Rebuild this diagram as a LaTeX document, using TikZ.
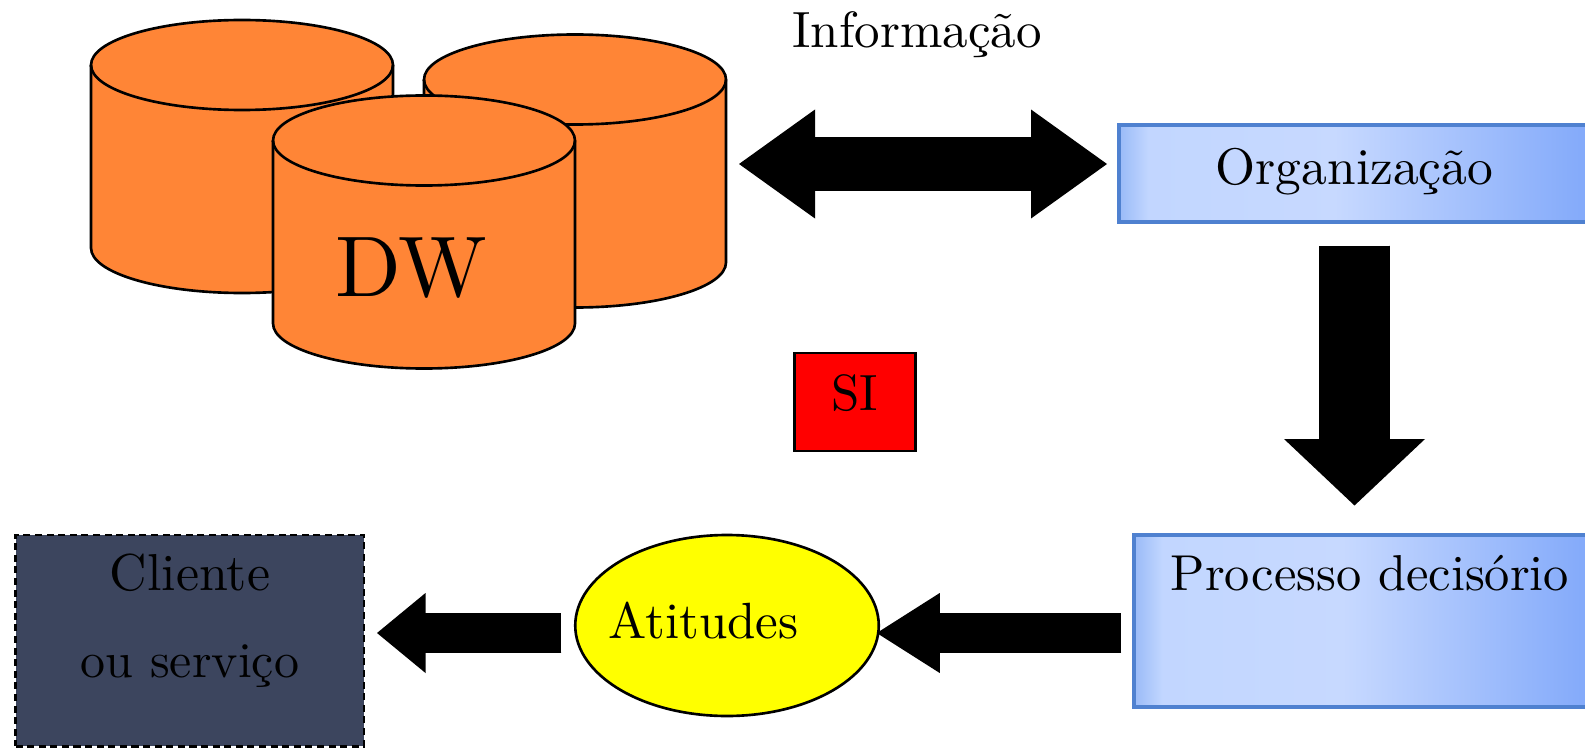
\documentclass[tikz,border=0pt]{standalone}
\usepackage{tikz}
\usetikzlibrary{arrows.meta, shapes.geometric}
\usetikzlibrary{positioning}
\definecolor{dworange}{RGB}{255,133,54}
\definecolor{boxline}{RGB}{79,129,208}
\definecolor{cliblue}{RGB}{60,69,94}
\definecolor{atiyellow}{RGB}{255,255,0}
\definecolor{sired}{RGB}{255,0,0}
\pgfdeclarehorizontalshading{boxshade}{100bp}{
  rgb(0bp)=(.60,.73,.97);
  rgb(25bp)=(.60,.73,.97);
  rgb(28bp)=(.76,.84,1);
  rgb(47bp)=(.78,.85,1);
  rgb(72bp)=(.52,.67,.98);
  rgb(100bp)=(.52,.67,.98)}
\tikzset{
  dw/.style={minimum height=5.46cm, minimum width=6.04cm, inner sep=0pt, outer sep=0pt},
  can/.style={draw, fill=dworange, line width=1.5pt},
  bluebox/.style={draw=boxline, line width=1.75pt, shading=boxshade, inner sep=0pt, outer sep=0pt},
  txt/.style={anchor=base, inner sep=0pt, scale=2.9, transform shape},
  bigarrow/.style n args={4}{line width=#1, -{Triangle[width=#2,length=#3,line width=0pt]},
    postaction={draw,-,shorten >=#4}},
  dblarrow/.style n args={4}{line width=#1, {Triangle[width=#2,length=#3,line width=0pt]}-{Triangle[width=#2,length=#3,line width=0pt]},
    postaction={draw,-,shorten <=#4,shorten >=#4}}
}
\newcommand{\dwcan}[1]{
\draw[can] ([yshift=-.9cm]#1.north west)--([yshift=.9cm]#1.south west) arc (180:360:3.02 and .9)--([yshift=-.9cm]#1.north east) arc (0:180:3.02 and .9)--cycle;
\draw[line width=1.5pt] ([yshift=-.9cm]#1.north west) arc (180:360:3.02 and .9);
}
\begin{document}
\begin{tikzpicture}
\useasboundingbox (0,0) rectangle (31.7,14.94);
\node[dw](dwa) at (4.84,11.81){};
\node[dw](dwb) at (11.5,11.52){};
\node[dw](dwc) at (8.48,10.30){};
\dwcan{dwa}
\dwcan{dwb}
\dwcan{dwc}
\node[txt,scale=1.69](dwt) at (8.22,9.02){DW};
\node[bluebox,minimum width=9.82cm,minimum height=1.94cm](org) at (27.29,11.47){};
\node[bluebox,minimum width=9.52cm,minimum height=3.44cm](proc) at (27.44,2.52){};
\node[draw,dash pattern=on 4pt off 2.6pt,line width=1.7pt,fill=cliblue,minimum width=6.97cm,minimum height=4.22cm,inner sep=0pt,outer sep=0pt](cli) at (3.795,2.13){};
\node[draw,fill=sired,line width=1.5pt,minimum width=2.43cm,minimum height=1.96cm,inner sep=0pt,outer sep=0pt](si) at (17.1,6.9){};
\node[draw,ellipse,fill=atiyellow,line width=1.5pt,minimum width=6.07cm,minimum height=3.62cm,inner sep=0pt,outer sep=0pt](ati) at (14.54,2.43){};
\node[txt](info) at (18.34,13.99){Informação};
\node[txt,scale=1.01](orgt) at (27.09,11.26){Organização};
\node[txt,scale=.99](proct) at (27.4,3.126){Processo decisório};
\node[txt,scale=1.02](clia) at (3.8,3.126){Cliente};
\node[txt,scale=.98](clib) at (3.8,1.4){ou serviço};
\node[txt](atit) at (14.07,2.18){Atitudes};
\node[txt](sit) at (17.1,6.74){SI};
\draw[dblarrow={1.09cm}{2.18cm}{1.52cm}{1.57cm},shorten <=.26cm,shorten >=.24cm](dwb.east |- 0,11.66)--(org.west |- 0,11.66);
\draw[bigarrow={1.42cm}{2.82cm}{1.33cm}{1.62cm},shorten <=.47cm,shorten >=.59cm](27.09,0 |- org.south)--(27.09,0 |- proc.north);
\draw[bigarrow={.81cm}{1.6cm}{1.26cm}{.9cm},shorten <=.26cm,shorten >=-.04cm](proc.west |- 0,2.28)--(ati.east |- 0,2.28);
\draw[bigarrow={.81cm}{1.6cm}{.97cm}{.93cm},shorten <=.28cm,shorten >=.26cm](ati.west |- 0,2.28)--(cli.east |- 0,2.28);
\end{tikzpicture}
\end{document}
